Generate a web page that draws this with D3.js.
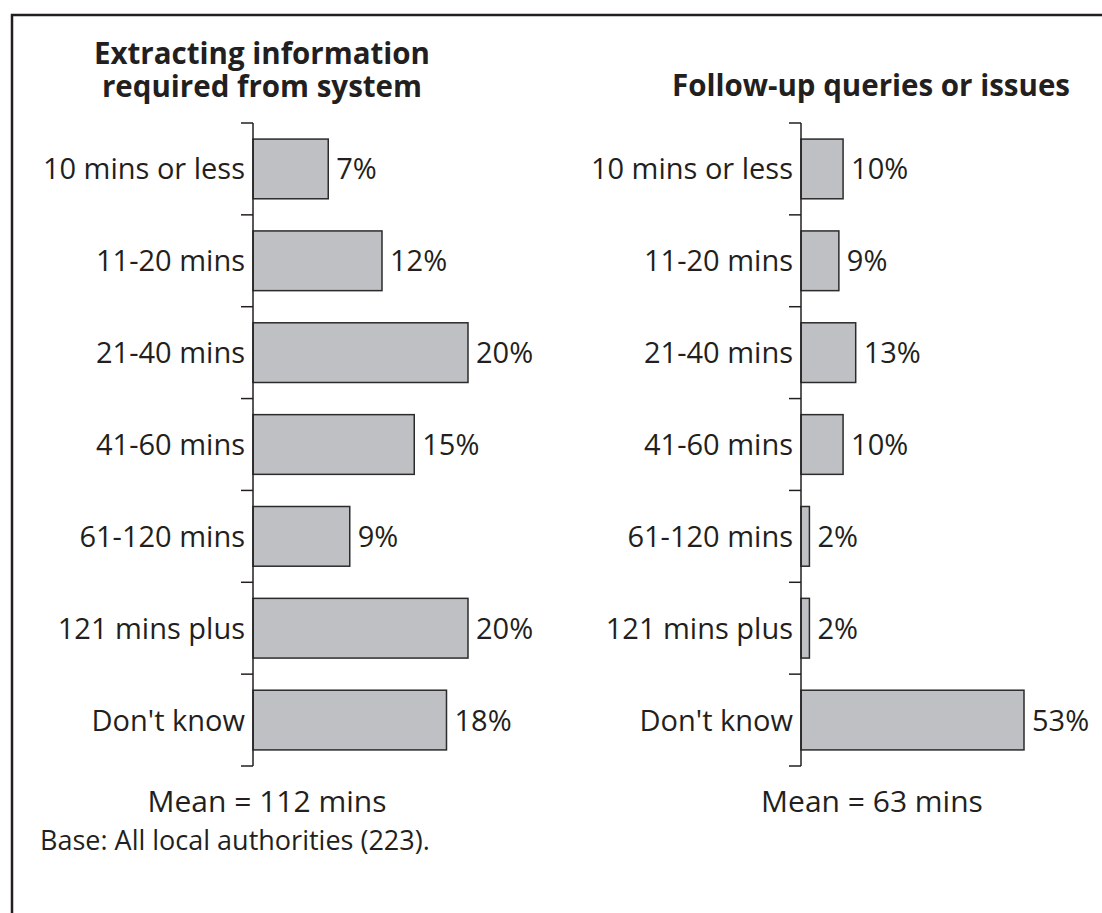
<!DOCTYPE html>
<html>
<head>
<meta charset="utf-8">
<script src="https://cdn.jsdelivr.net/npm/d3@7/dist/d3.min.js"></script>
<style>
  html, body { margin: 0; padding: 0; background: #fff; }
  svg { display: block; }
  text { font-family: "Open Sans", "Noto Sans", sans-serif; fill: #231f20; }
</style>
</head>
<body>
<svg id="chart" width="1102" height="913"></svg>
<script>
// Time bands (shared by both panels)
const categories = ["10 mins or less", "11-20 mins", "21-40 mins", "41-60 mins",
                    "61-120 mins", "121 mins plus", "Don't know"];

// Percent of local authorities in each band
const extractingValues = [7, 12, 20, 15, 9, 20, 18];
const followUpValues   = [10, 9, 13, 10, 2, 2, 53];

const panelTitles = [
  ["Extracting information", "required from system"],
  ["Follow-up queries or issues"]
];
const meanLabels = ["Mean = 112 mins", "Mean = 63 mins"];
const baseNote = "Base: All local authorities (223).";

const svg = d3.select("#chart");
const ink = "#231f20";
const barFill = "#bfc0c3";

// Outer frame (open to the right and bottom of the page)
svg.append("rect")
  .attr("x", 12).attr("y", 15)
  .attr("width", 1200).attr("height", 1000)
  .attr("fill", "none").attr("stroke", ink).attr("stroke-width", 2.5);

const y = d3.scaleBand().domain(categories).range([123, 766]).padding(0);
const barInset = 0.175;   // fraction of each band left empty above and below a bar

const panels = [
  { values: extractingValues, axisX: 253, width: 215, titleX: 262, titleY: 64, meanX: 267 },
  { values: followUpValues,   axisX: 801, width: 223, titleX: 871, titleY: 96, meanX: 872 }
];

panels.forEach((p, i) => {
  const g = svg.append("g");
  const x = d3.scaleLinear()
    .domain([0, d3.max(p.values)])
    .range([p.axisX, p.axisX + p.width]);

  // Title (one text element, one tspan per line)
  const title = g.append("text")
    .attr("x", p.titleX).attr("y", p.titleY)
    .attr("text-anchor", "middle")
    .attr("font-size", 29.5).attr("font-weight", 700);
  panelTitles[i].forEach((line, j) => {
    title.append("tspan")
      .attr("x", p.titleX)
      .attr("dy", j === 0 ? 0 : 33)
      .text(line);
  });

  const rows = categories.map((c, k) => ({ c, v: p.values[k] }));

  // Bars
  g.selectAll("rect.bar")
    .data(rows)
    .join("rect")
    .attr("class", "bar")
    .attr("x", x(0))
    .attr("y", d => y(d.c) + y.bandwidth() * barInset)
    .attr("width", d => x(d.v) - x(0))
    .attr("height", y.bandwidth() * (1 - 2 * barInset))
    .attr("fill", barFill)
    .attr("stroke", "#2b2b2b")
    .attr("stroke-width", 1.5);

  // Value labels
  g.selectAll("text.val")
    .data(rows)
    .join("text")
    .attr("class", "val")
    .attr("x", d => x(d.v) + 8)
    .attr("y", d => y(d.c) + y.bandwidth() / 2)
    .attr("dy", "0.36em")
    .attr("font-size", 29)
    .text(d => d.v + "%");

  // Category labels
  g.selectAll("text.cat")
    .data(categories)
    .join("text")
    .attr("class", "cat")
    .attr("x", p.axisX - 8)
    .attr("y", d => y(d) + y.bandwidth() / 2)
    .attr("dy", "0.36em")
    .attr("text-anchor", "end")
    .attr("font-size", 29)
    .text(d => d);

  // Vertical axis with ticks at band boundaries
  const bounds = categories.map(c => y(c)).concat([y.range()[1]]);
  g.append("line")
    .attr("x1", p.axisX).attr("x2", p.axisX)
    .attr("y1", y.range()[0]).attr("y2", y.range()[1])
    .attr("stroke", ink).attr("stroke-width", 1.5);
  g.selectAll("line.tick")
    .data(bounds)
    .join("line")
    .attr("class", "tick")
    .attr("x1", p.axisX - 12).attr("x2", p.axisX)
    .attr("y1", d => d).attr("y2", d => d)
    .attr("stroke", ink).attr("stroke-width", 1.5);

  // Mean
  g.append("text")
    .attr("x", p.meanX).attr("y", 812)
    .attr("text-anchor", "middle")
    .attr("font-size", 30)
    .text(meanLabels[i]);
});

svg.append("text")
  .attr("x", 40).attr("y", 850)
  .attr("font-size", 27)
  .text(baseNote);
</script>
</body>
</html>
